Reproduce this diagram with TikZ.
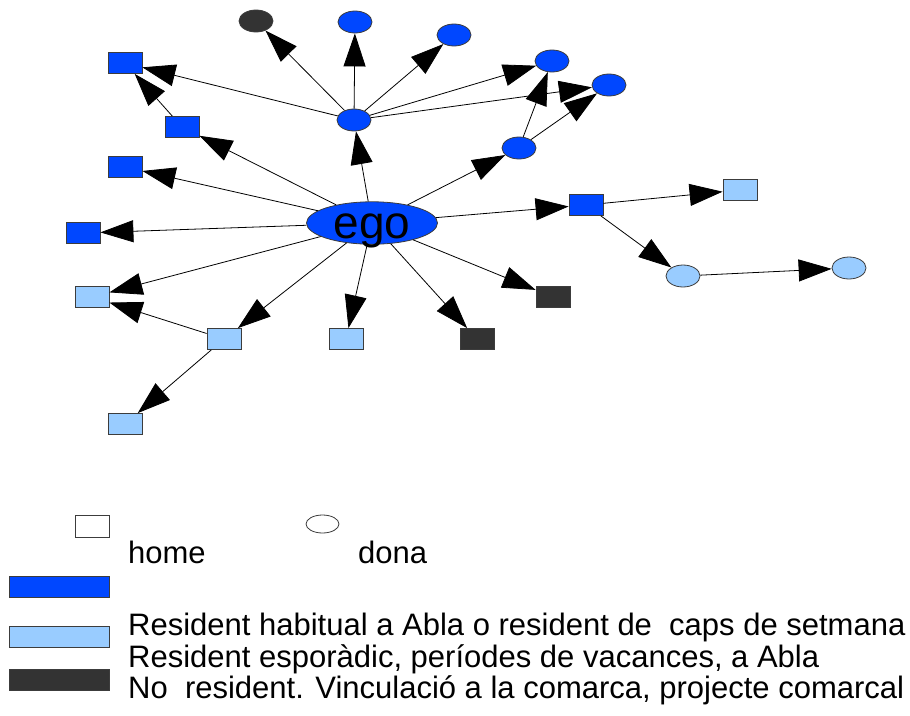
\documentclass[tikz,border=0pt]{standalone}
\usepackage{fontspec}
\setmainfont{Liberation Sans}
\usetikzlibrary{arrows.meta,shapes.geometric}
\definecolor{habblue}{RGB}{0,71,255}
\definecolor{espblue}{RGB}{153,204,255}
\definecolor{nores}{RGB}{51,51,51}
\definecolor{rim}{RGB}{60,60,60}
\newcommand\legfont{\fontsize{31}{37}\selectfont}
\tikzset{
  home/.style={rectangle,draw=rim,line width=0.8pt,minimum width=34pt,minimum height=21pt,inner sep=0pt},
  dona/.style={ellipse,draw=rim,line width=0.8pt,minimum width=34pt,minimum height=22pt,inner sep=0pt},
  arr/.style={line width=0.8pt,-{Triangle[length=33pt,width=22pt]}},
  legtext/.style={anchor=base west,inner sep=0pt,font=\legfont},
}
\begin{document}
\begin{tikzpicture}[x=1pt,y=-1pt]
\useasboundingbox (0,0) rectangle (910,715);
% ego
\node[dona,fill=habblue,minimum width=131pt,minimum height=41pt,font=\fontsize{46}{46}\selectfont,text height=30pt,text depth=0pt] (ego) at (372,223) {ego};
% women
\node[dona,fill=habblue] (mid) at (354,120) {};
\node[dona,fill=habblue] (mid2) at (519,148) {};
\node[dona,fill=nores] (t1) at (256,21) {};
\node[dona,fill=habblue] (t2) at (355,22) {};
\node[dona,fill=habblue] (t3) at (454,35) {};
\node[dona,fill=habblue] (t4) at (552,61) {};
\node[dona,fill=habblue] (t5) at (609,85) {};
\node[dona,fill=espblue] (r1) at (683,276) {};
\node[dona,fill=espblue] (r2) at (849,268) {};
% men
\node[home,fill=habblue] (s1) at (125,63) {};
\node[home,fill=habblue] (s2) at (182,127) {};
\node[home,fill=habblue] (s3) at (125,167) {};
\node[home,fill=habblue] (s4) at (83,233) {};
\node[home,fill=habblue] (s5) at (586,205) {};
\node[home,fill=espblue] (l1) at (92,297) {};
\node[home,fill=espblue] (l2) at (224,339) {};
\node[home,fill=espblue] (l3) at (346,339) {};
\node[home,fill=espblue] (l4) at (740,190) {};
\node[home,fill=espblue] (l5) at (125,424) {};
\node[home,fill=nores] (d1) at (477,339) {};
\node[home,fill=nores] (d2) at (553,297) {};
% ties
\foreach \t in {mid,mid2,s2,s3,s4,s5,l1,l2,l3,d1,d2}{
\draw[arr] (ego) -- (\t);
}
\foreach \t in {t1,t2,t3,t4,t5,s1}{
\draw[arr] (mid) -- (\t);
}
\draw[arr] (mid2) -- (t4);
\draw[arr] (mid2) -- (t5);
\draw[arr] (s2) -- (s1);
\draw[arr] (l2) -- (l1);
\draw[arr] (l2) -- (l5);
\draw[arr] (s5) -- (l4);
\draw[arr] (s5) -- (r1);
\draw[arr] (r1) -- (r2);
% legend
\node[home,fill=white,minimum height=22pt] (khome) at (92,526) {};
\node[dona,fill=white,minimum width=33pt,minimum height=18pt] (kdona) at (322.5,524) {};
\node[legtext] (thome) at (128,563) {home};
\node[legtext] (tdona) at (358,563) {dona};
\node[home,fill=habblue,minimum width=100pt] (khab) at (59,586.5) {};
\node[home,fill=espblue,minimum width=100pt] (kesp) at (59,637) {};
\node[home,fill=nores,minimum width=100pt] (knor) at (59,679.5) {};
\node[legtext] (thab) at (128,635) {Resident habitual a Abla o resident de\ \ caps de setmana};
\node[legtext] (tesp) at (128,667) {Resident esporàdic, períodes de vacances, a Abla};
\node[legtext] (tnor) at (128,698) {No\ \ resident. Vinculació a la comarca, projecte comarcal};
\end{tikzpicture}
\end{document}
